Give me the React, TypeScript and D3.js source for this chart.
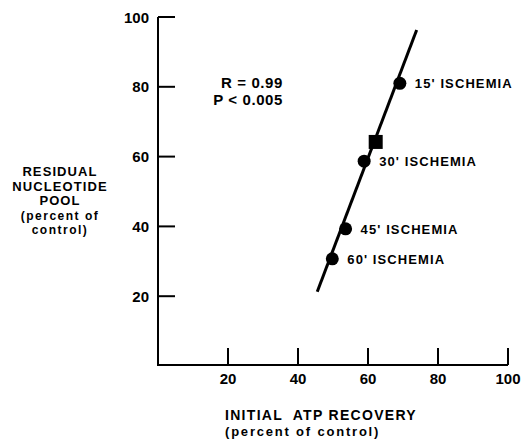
import React from 'react';
import * as d3 from 'd3';

// values
const atpRecovery = [69.1, 58.9, 53.6, 49.8];
const nucleotidePool = [81, 58.7, 39.3, 30.7];
const pointLabels = ["15' ISCHEMIA", "30' ISCHEMIA", "45' ISCHEMIA", "60' ISCHEMIA"];
const squareAtp = [62.2];
const squarePool = [64.2];
const fitAtp = [45.5, 73.9];
const fitPool = [21.3, 96.3];
const xTicks = [20, 40, 60, 80, 100];
const yTicks = [20, 40, 60, 80, 100];
const yTitle = ['RESIDUAL', 'NUCLEOTIDE', 'POOL', '(percent of', 'control)'];
const xTitle = ['INITIAL  ATP RECOVERY', '(percent of control)'];
const stats = ['R = 0.99', 'P < 0.005'];

const W = 523;
const H = 440;
const font = '"Liberation Sans", Arial, sans-serif';

const App: React.FC = () => {
  const x = d3.scaleLinear().domain([0, 100]).range([158, 508]);
  const y = d3.scaleLinear().domain([0, 100]).range([366, 17]);
  const line = d3.line<number>()
    .x((d) => x(d))
    .y((_, i) => y(fitPool[i]));

  const axisY = y(0) - 1;

  return (
    <svg width={W} height={H} style={{ position: 'absolute', left: 0, top: 0, background: '#fff' }}
      fontFamily={font} fontWeight="bold">
      {/* axes */}
      <line x1={x(0)} x2={x(0)} y1={y(100)} y2={axisY} stroke="#000" strokeWidth={2} />
      <line x1={x(0) - 1} x2={x(100)} y1={axisY} y2={axisY} stroke="#000" strokeWidth={2} />
      {yTicks.map((t) => (
        <g key={'y' + t}>
          <line x1={x(0)} x2={x(0) + 17} y1={y(t)} y2={y(t)} stroke="#000" strokeWidth={2} />
          <text x={x(0) - 9} y={y(t) + 5.5} textAnchor="end" fontSize={15}>{t}</text>
        </g>
      ))}
      {xTicks.map((t) => (
        <g key={'x' + t}>
          <line x1={x(t)} x2={x(t)} y1={axisY} y2={axisY - 17} stroke="#000" strokeWidth={2} />
          <text x={x(t)} y={384} textAnchor="middle" fontSize={15}>{t}</text>
        </g>
      ))}

      {/* regression line */}
      <path d={line(fitAtp) || ''} fill="none" stroke="#000" strokeWidth={3} />

      {/* points */}
      {atpRecovery.map((v, i) => (
        <g key={'p' + i}>
          <circle cx={x(v)} cy={y(nucleotidePool[i])} r={6.5} fill="#000" />
          <text x={x(v) + 15} y={y(nucleotidePool[i]) + 5} fontSize={13} letterSpacing={1.1}>
            {pointLabels[i]}
          </text>
        </g>
      ))}
      {squareAtp.map((v, i) => (
        <rect key={'s' + i} x={x(v) - 7} y={y(squarePool[i]) - 7} width={14} height={14} fill="#000" />
      ))}

      {/* stats */}
      {stats.map((s, i) => (
        <text key={s} x={283} y={88 + i * 17} textAnchor="end" fontSize={15} letterSpacing={0.6}>{s}</text>
      ))}

      {/* y title */}
      {yTitle.map((s, i) => (
        <text key={s} x={60} y={176 + i * 14.5} textAnchor="middle"
          fontSize={i >= 3 ? 12 : 13} letterSpacing={i >= 3 ? 1.5 : 1.1}>{s}</text>
      ))}

      {/* x title */}
      <text x={225} y={420} fontSize={14} letterSpacing={1.3} style={{ whiteSpace: 'pre' }}>{xTitle[0]}</text>
      <text x={225} y={436} fontSize={13} letterSpacing={1.8}>{xTitle[1]}</text>
    </svg>
  );
};

export default App;
